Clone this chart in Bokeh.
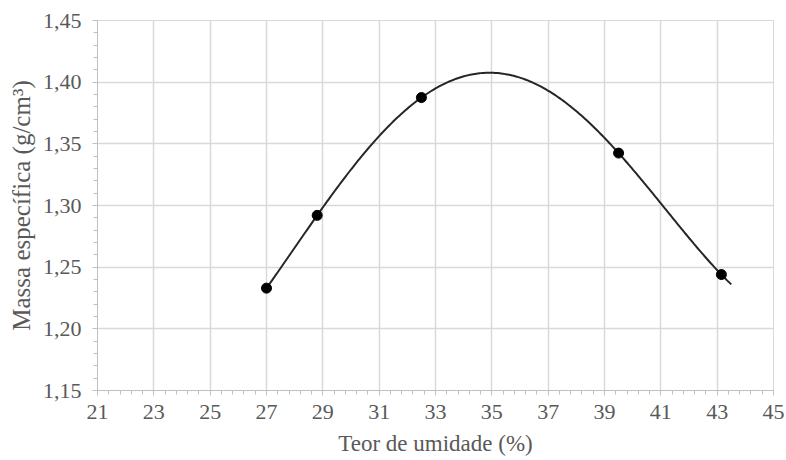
import numpy as np
from bokeh.plotting import figure
from bokeh.models import FixedTicker, Range1d
from bokeh.embed import file_html
from bokeh.resources import INLINE

# data
teor = [27.0, 28.8, 32.5, 39.5, 43.15]
massa = [1.233, 1.292, 1.3875, 1.3425, 1.244]

x_ticks = [21, 23, 25, 27, 29, 31, 33, 35, 37, 39, 41, 43, 45]
x_tick_labels = ["21", "23", "25", "27", "29", "31", "33", "35", "37", "39", "41", "43", "45"]
y_ticks = [1.15, 1.20, 1.25, 1.30, 1.35, 1.40, 1.45]
y_tick_labels = ["1,15", "1,20", "1,25", "1,30", "1,35", "1,40", "1,45"]

trend_start = 27.0
trend_end = 43.5
trend_degree = 4

# polynomial trendline fitted to the points (as the spreadsheet trendline)
coef = np.polyfit(teor, massa, trend_degree)
tx = np.linspace(trend_start, trend_end, 300)
ty = np.polyval(coef, tx)

FONT = "Liberation Serif"
TXT = "#595959"
GRID = "#d9d9d9"

p = figure(width=786, height=460, output_backend="svg", toolbar_location=None,
           x_range=Range1d(21, 45), y_range=Range1d(1.15, 1.45),
           min_border_left=97, min_border_right=13, min_border_top=20, min_border_bottom=70)

p.outline_line_color = GRID
p.background_fill_color = "white"
p.border_fill_color = "white"

p.line(tx, ty, line_color="#262626", line_width=2)
p.scatter(teor, massa, size=10, fill_color="black", line_color="black")

p.xaxis.ticker = FixedTicker(ticks=x_ticks, minor_ticks=list(np.round(np.arange(21, 45.01, 0.4), 2)))
p.yaxis.ticker = FixedTicker(ticks=y_ticks, minor_ticks=list(np.round(np.arange(1.15, 1.4501, 0.01), 3)))
p.xaxis.major_label_overrides = {t: l for t, l in zip(x_ticks, x_tick_labels)}
p.yaxis.major_label_overrides = {t: l for t, l in zip(y_ticks, y_tick_labels)}

p.xaxis.axis_label = "Teor de umidade (%)"
p.yaxis.axis_label = "Massa específica (g/cm³)"

for ax in (p.xaxis, p.yaxis):
    ax.axis_line_color = "#bfbfbf"
    ax.major_tick_line_color = "#bfbfbf"
    ax.minor_tick_line_color = "#bfbfbf"
    ax.major_tick_out = 5
    ax.major_tick_in = 0
    ax.minor_tick_out = 4
    ax.minor_tick_in = 0
    ax.major_label_text_font = FONT
    ax.major_label_text_font_size = "22px"
    ax.major_label_text_color = TXT
    ax.axis_label_text_font = FONT
    ax.axis_label_text_color = TXT
    ax.axis_label_text_font_style = "normal"

p.xaxis.axis_label_text_font_size = "23px"
p.yaxis.axis_label_text_font_size = "25px"
p.xaxis.major_label_standoff = 9
p.yaxis.major_label_standoff = 11
p.xaxis.axis_label_standoff = 9
p.yaxis.axis_label_standoff = 5

p.xgrid.ticker = FixedTicker(ticks=x_ticks)
p.ygrid.ticker = FixedTicker(ticks=y_ticks)
p.grid.grid_line_color = GRID
p.grid.grid_line_width = 1.5

open("out.html", "w").write(file_html(p, INLINE))
